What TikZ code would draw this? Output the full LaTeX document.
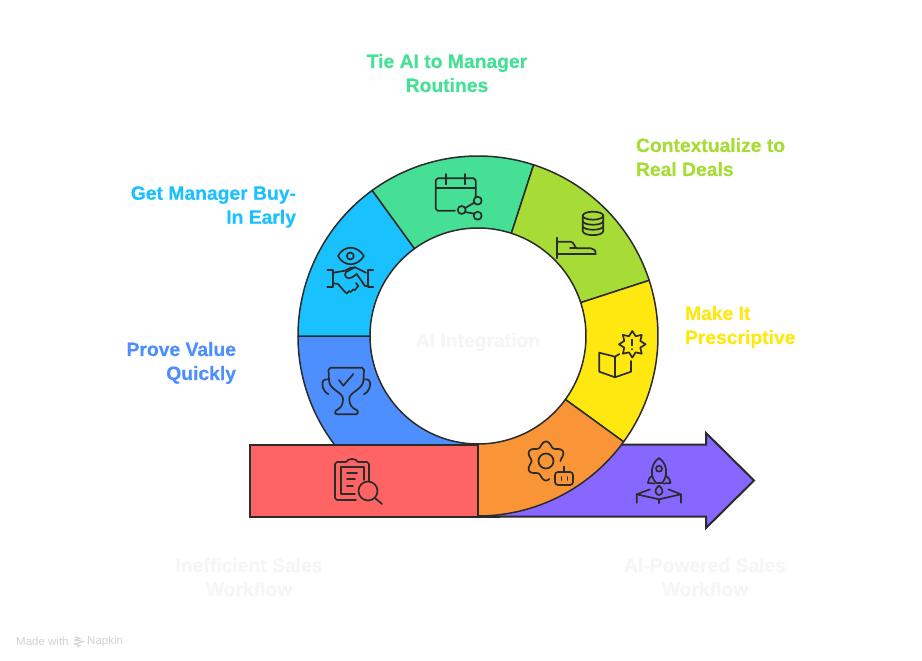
\documentclass[tikz,border=0pt]{standalone}
\usepackage{fontspec}
\setmainfont{Liberation Sans}[BoldFeatures={FakeBold=0.45}]
\definecolor{ink}{HTML}{2B2B2B}
\definecolor{cRed}{HTML}{FF6464}
\definecolor{cOrange}{HTML}{F99536}
\definecolor{cYellow}{HTML}{FFE710}
\definecolor{cLime}{HTML}{A6DC35}
\definecolor{cGreen}{HTML}{45E095}
\definecolor{cCyan}{HTML}{1AC1FF}
\definecolor{cBlue}{HTML}{4E8FFF}
\definecolor{cPurple}{HTML}{8767FF}
\definecolor{cFaint}{HTML}{F6F6F6}
\definecolor{cMark}{HTML}{D2D2D2}
\newcommand{\ringsector}[3]{\draw[sector,fill=#1] (#2:180) arc[start angle=#2,end angle=#3,radius=180] -- (#3:108) arc[start angle=#3,end angle=#2,radius=108] -- cycle;}
\tikzset{
  sector/.style={draw=ink,line width=1.5pt,line join=round},
  band/.style={draw=ink,line width=2pt,line join=miter},
  icon/.style={draw=ink,line width=1.7pt,line cap=round,line join=round,fill=none},
  label/.style={font=\fontsize{19.3}{24}\selectfont\bfseries,inner sep=0pt,outer sep=0pt,text depth=0pt},
}
\begin{document}
\begin{tikzpicture}[x=1pt,y=-1pt]
\useasboundingbox (0,0) rectangle (922,661);
\fill[white] (0,0) rectangle (922,661);
% ring
\begin{scope}[shift={(478,336)},y=1pt]
  \ringsector{cBlue}{180}{270}
  \ringsector{cCyan}{126}{180}
  \ringsector{cGreen}{72}{126}
  \ringsector{cLime}{18}{72}
  \ringsector{cYellow}{-36}{18}
\end{scope}
% output arrow
\draw[band,fill=cPurple] (478,444.5) -- (706,444.5) -- (706,433) -- (754,480.5) -- (706,528) -- (706,516.5) -- (478,516.5) -- cycle;
\begin{scope}[shift={(478,336)},y=1pt]
  \ringsector{cOrange}{-90}{-36}
\end{scope}
\draw[band] (478,516.5) -- (500,516.5);
% input bar
\draw[band,fill=cRed] (250,444.5) rectangle (478,516.5);
% clipboard
\draw[icon] (369,481) -- (369,464) -- (367,462) -- (358,462) .. controls (356,458) and (348,458) .. (346,462) -- (337,462) -- (335,464) -- (335,498) -- (337,500) -- (356,500);
\draw[icon] (364,480) -- (364,467) -- (341,467) -- (341,494) -- (355,494);
\draw[icon] (347,473) -- (357,473) (347,479) -- (355,479) (347,486) -- (353,486);
\draw[icon] (368,491) circle[radius=9.5];
\draw[icon] (375,498) -- (382,504);
% gear and robot
\draw[icon] plot[domain=80:360,samples=90,smooth] ({546+(17+2.5*cos(6*(\x+90)))*cos(\x)},{461+(17+2.5*cos(6*(\x+90)))*sin(\x)});
\draw[icon] (546,461) circle[radius=7.5];
\draw[icon,rounded corners=3pt] (555,472) rectangle (573,485);
\draw[icon] (564,466.5) -- (564,472) (561.5,477) -- (561.5,480) (567.5,477) -- (567.5,480);
% rocket
\draw[icon] (659,458) .. controls (664,461) and (667,468) .. (666,474) .. controls (665.5,478) and (664,481) .. (662,483) -- (656,483) .. controls (654,481) and (652.5,478) .. (652,474) .. controls (651,468) and (654,461) .. (659,458) -- cycle;
\draw[icon] (659,468.7) circle[radius=3];
\draw[icon] (652,476) .. controls (649,478) and (648,480) .. (648,483) -- (654.5,483.5);
\draw[icon] (666,476) .. controls (669,478) and (670.5,480) .. (670.5,483) -- (663.5,483.5);
\draw[icon] (659,485.7) .. controls (656,488) and (655,491) .. (655.5,492) .. controls (656,494) and (658,495) .. (659,495) .. controls (660,495) and (662,494) .. (662.5,492) .. controls (663,491) and (662,488) .. (659,485.7) -- cycle;
\draw[icon] (636.7,502.7) -- (636.7,494.3) -- (650,489.3) (636.7,494.3) -- (659,499.3) -- (681,494.3) -- (668.3,489.3) (681,494.3) -- (681,502.7) (659,499.3) -- (659,503.3);
% trophy
\draw[icon] (328.5,370) -- (330.5,367.7) -- (362,367.7) -- (364,370) -- (363.5,380) .. controls (363,390) and (349,392) .. (349.3,399) .. controls (349.3,405) and (352,408) .. (356.7,410) .. controls (359,412) and (358,414.3) .. (355,414.3) -- (338,414.3) .. controls (334.5,414.3) and (334,412) .. (336,410.5) .. controls (341,408) and (343,405) .. (343,399) .. controls (343,392) and (329,390) .. (329,380) -- cycle;
\draw[icon] (339,380) -- (343.3,385.7) -- (353.3,374);
\draw[icon] (328.5,379.3) -- (325,379.5) .. controls (322,380) and (322,385) .. (323,388) .. controls (324,391) and (326,393) .. (328.3,394.3);
\draw[icon] (364,379.3) -- (367.5,379.5) .. controls (370.5,380) and (370.5,385) .. (369.5,388) .. controls (368.5,391) and (366.5,393) .. (364,394.3);
% eye and handshake
\draw[icon] (338,256) .. controls (344,245) and (357,245) .. (364,256) .. controls (357,267) and (344,267) .. (338,256) -- cycle;
\draw[icon] (350.3,256) circle[radius=3.5];
\draw[icon] (327.3,270) -- (333.3,270) -- (333.3,286.7) -- (327.3,286.7);
\draw[icon] (373.3,270) -- (367.7,270) -- (367.7,286.7) -- (373.3,286.7);
\draw[icon] (333.3,272.7) -- (345,270.7) -- (350,268) -- (355,267.3) -- (366,272.7);
\draw[icon] (355,267.3) -- (346,272) -- (345,275) .. controls (346,279) and (350,280) .. (356.7,274) -- (365,286) -- (367.7,286);
\draw[icon] (333.3,283.3) -- (338,284) -- (345,292) -- (347,293.5) -- (349,291) -- (351,292) -- (353,289.5) -- (355,290) -- (357,287.5) -- (358.3,286) -- (356,283);
% calendar and share
\draw[icon] (455,210.7) -- (437.7,210.7) -- (435.7,208.7) -- (435.7,180.3) -- (437.7,178.3) -- (473.7,178.3) -- (475.7,180.3) -- (475.7,196.7);
\draw[icon] (435.7,188.3) -- (475.7,188.3);
\draw[icon] (445.7,174) -- (445.7,184.3) (465,174) -- (465,184.3);
\draw[icon] (461.7,210) circle[radius=4] (477.7,200.7) circle[radius=4] (477.7,215.7) circle[radius=4];
\draw[icon] (465.2,208) -- (474.2,202.7) (465.2,212) -- (474.2,213.7);
% database and hand
\draw[icon] (593,215.7) ellipse[x radius=10.3,y radius=4];
\draw[icon] (582.7,215.7) -- (582.7,231) .. controls (583,236.5) and (603,236.5) .. (603.3,231) -- (603.3,215.7);
\draw[icon] (582.7,221) .. controls (583,226) and (603,226) .. (603.3,221);
\draw[icon] (582.7,226) .. controls (583,231) and (603,231) .. (603.3,226);
\draw[icon] (556.7,237.7) -- (556.7,258.3);
\draw[icon] (556.7,241.7) -- (571,241.7) .. controls (574,242) and (575,248.3) .. (577,248.3) -- (591,248.3) .. controls (594,249) and (595.7,250) .. (595.7,254) -- (556.7,254);
\draw[icon] (570,248.3) -- (577,248.3);
% book and badge
\draw[icon] plot[samples at={0,22.5,...,337.5}] ({632.3+(11+2.3*cos(8*\x))*cos(\x)},{344.3+(11+2.3*cos(8*\x))*sin(\x)}) -- cycle;
\draw[icon] (632.3,339.5) -- (632.3,345.5) (632.3,349) -- (632.3,349.3);
\draw[icon] (615,356.7) -- (599.3,352.7) -- (599.3,371.7) -- (615,377.3) -- (631,371.7) -- (631,361);
\draw[icon] (615,356.7) -- (615,377.3) (615,356.7) -- (619.3,354);
% labels
\node[label,text=cGreen,align=center] (lblTie) at (447,73) {Tie AI to Manager\\Routines};
\node[label,text=cLime,align=left,anchor=west] (lblContext) at (636,157) {Contextualize to\\Real Deals};
\node[label,text=cCyan,align=right,anchor=east] (lblBuy) at (296,205) {Get Manager Buy-\\In Early};
\node[label,text=cYellow,align=left,anchor=west] (lblMake) at (685,325) {Make It\\Prescriptive};
\node[label,text=cBlue,align=right,anchor=east] (lblProve) at (236,361) {Prove Value\\Quickly};
\node[label,text=cFaint] (lblCore) at (478,340) {AI Integration};
\node[label,text=cFaint,align=center] (lblIn) at (249,577) {Inefficient Sales\\Workflow};
\node[label,text=cFaint,align=center] (lblOut) at (705,577) {AI-Powered Sales\\Workflow};
% watermark
\node[font=\fontsize{11.5}{12}\selectfont,text=cMark,inner sep=0pt,anchor=west] (markA) at (16,641.5) {Made with};
\node[font=\fontsize{11.5}{12}\selectfont,text=cMark,inner sep=0pt,anchor=west] (markB) at (87,641.5) {Napkin};
\draw[cMark,line width=1pt] (75,637) -- (80,638.5) -- (75,640) -- (83,641.5) -- (75,644) -- (80,645.5) -- (77,647);
\end{tikzpicture}
\end{document}
